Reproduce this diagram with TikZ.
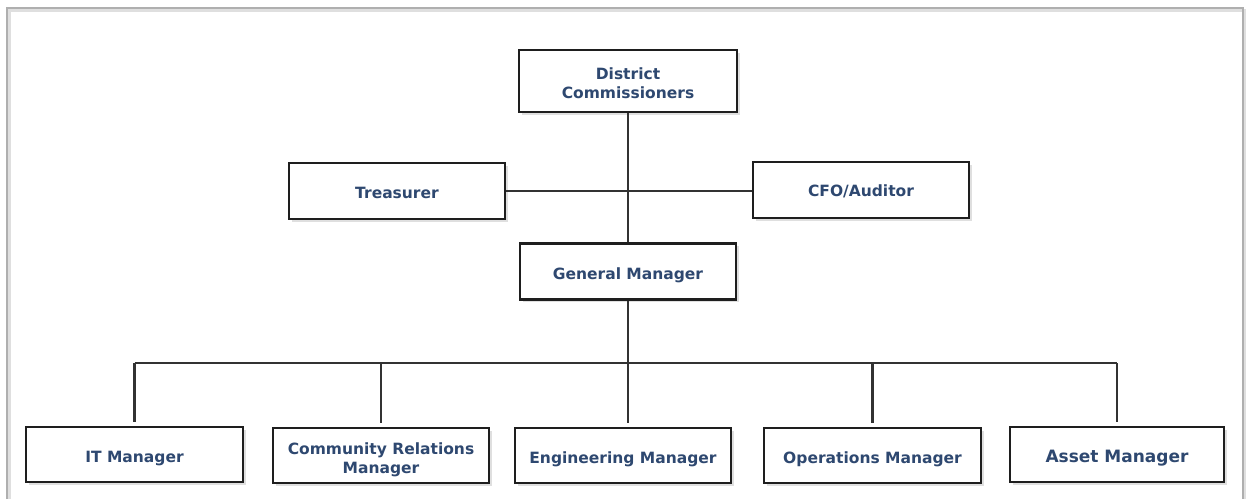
\documentclass[tikz,border=0pt]{standalone}
\usepackage{fontspec}
\setmainfont{DejaVu Sans}
\usetikzlibrary{shadows}
\definecolor{textblue}{RGB}{46,72,112}
\definecolor{boxline}{RGB}{30,30,30}
\definecolor{linkline}{RGB}{50,50,50}
\definecolor{framegray}{RGB}{175,175,175}
\newcommand\boxstrut[1]{\rule{0pt}{#1}}
\begin{document}
\begin{tikzpicture}[x=1pt,y=-1pt,
  orgbox/.style={draw=boxline, line width=2.4pt, fill=white, rectangle,
    minimum width=216pt, minimum height=56pt, align=center,
    text=textblue, font=\bfseries\fontsize{15.5}{19}\selectfont,
    drop shadow={shadow xshift=2.5pt, shadow yshift=-2.5pt, opacity=0.25}},
  link/.style={draw=linkline, line width=2.2pt},
  dropline/.style={link, shorten >=4pt}]
  % page area and frame
  \useasboundingbox (0,0) rectangle (1246,499);
  \fill[white] (0,0) rectangle (1246,499);
  \draw[gray!25, line width=3pt] (9,499) -- (9,10) -- (1245,10) -- (1245,499);
  \draw[framegray, line width=1.2pt] (7,499) -- (7,8) -- (1243,8) -- (1243,499);

  % boxes
  \node[orgbox, minimum height=62pt, minimum width=218pt] (dc) at (628,81) {\boxstrut{15.5pt}District\\Commissioners};
  \node[orgbox] (tr)  at (397,191) {\boxstrut{15pt}Treasurer};
  \node[orgbox] (cfo) at (861,190) {\boxstrut{15pt}CFO/Auditor};
  \node[orgbox] (gm)  at (628,271.5) {\boxstrut{18.5pt}General Manager};
  \node[orgbox, minimum width=217pt, minimum height=55pt] (it)  at (134.5,454.5) {\boxstrut{20pt}IT Manager};
  \node[orgbox, minimum height=55pt] (cr)  at (381,455.5) {\boxstrut{20pt}Community Relations\\Manager};
  \node[orgbox, minimum height=55pt] (eng) at (623,455.5) {\boxstrut{20pt}Engineering Manager};
  \node[orgbox, minimum width=217pt, minimum height=55pt] (ops) at (872.5,455.5) {\boxstrut{20pt}Operations Manager};
  \node[orgbox, minimum width=214pt, minimum height=55pt, font=\bfseries\fontsize{17}{20}\selectfont] (asset) at (1117,454.5) {\boxstrut{20pt}Asset Manager};

  % connectors
  \coordinate (bus) at (628,363);
  \draw[link] (dc.south) -- (gm.north);
  \draw[link] (tr.east) -- (tr.east -| cfo.west);
  \draw[link] (gm.south) -- (bus);
  \draw[link] (it.north |- bus) -- (asset.north |- bus);
  \foreach \n in {it,cr,ops,asset}
    \draw[dropline] (\n.north |- bus) -- (\n.north);
  \draw[dropline] (bus) -- (bus |- eng.north);
\end{tikzpicture}
\end{document}
